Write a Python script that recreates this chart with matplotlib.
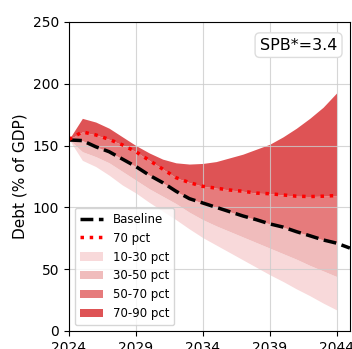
import numpy as np
import matplotlib.pyplot as plt

years = np.arange(2024, 2045)
base_years = np.arange(2024, 2046)

baseline = [154.5, 154, 149, 145, 139, 133, 126, 120, 113, 107, 103.5, 100,
            96.5, 93, 90, 86.6, 84, 80.3, 77, 73.6, 71, 67]
p10 = [155, 138, 133, 126, 118, 111.6, 104, 97, 90, 82.5, 75.5, 69.5,
       63.5, 57.5, 51.5, 45.5, 40, 34, 28.5, 22.5, 17]
p30 = [155, 145, 141, 136, 129, 122, 115, 109, 103, 96, 90, 85,
       80.5, 76, 71.5, 67, 62.5, 58, 53, 48.5, 44]
p50 = [155, 154, 149, 145, 139, 133, 126, 120, 113, 107, 103.5, 100,
       96.5, 93, 90, 86.6, 84, 80.3, 77, 73.6, 71.5]
p70 = [155, 161, 158.6, 155, 150.5, 145, 138, 131, 124, 120, 117, 115.5,
       114, 113, 111.5, 111, 110, 109, 108.7, 109, 109.5]
p90 = [155, 172, 169, 164, 157, 150, 144, 139, 136, 135, 135.5, 137,
       140, 143, 147, 151, 157, 164, 172, 181, 192.5]

fig, ax = plt.subplots(figsize=(3.52, 3.49), dpi=100)
fig.subplots_adjust(left=0.196, right=0.994, bottom=0.052, top=0.937)

ax.fill_between(years, p10, p30, color='#f8d9da', lw=0, label='10-30 pct')
ax.fill_between(years, p30, p50, color='#f0bcbc', lw=0, label='30-50 pct')
ax.fill_between(years, p50, p70, color='#e67b7c', lw=0, label='50-70 pct')
ax.fill_between(years, p70, p90, color='#de5355', lw=0, label='70-90 pct')
ax.plot(base_years, baseline, color='black', ls='--', lw=2.5, label='Baseline')
ax.plot(years, p70, color='red', ls=':', lw=2.5, label='70 pct')

ax.set_xlim(2024, 2045)
ax.set_ylim(0, 250)
ax.set_xticks([2024, 2029, 2034, 2039, 2044])
ax.set_yticks([0, 50, 100, 150, 200, 250])
ax.tick_params(labelsize=10)
ax.grid(True, color='#cccccc', lw=0.8, alpha=0.8)
ax.set_ylabel('Debt (% of GDP)', fontsize=11)

ax.text(0.955, 0.925, 'SPB*=3.4', transform=ax.transAxes, ha='right', va='center',
        fontsize=11.5, bbox=dict(boxstyle='round', fc='white', ec='#dddddd'))

handles, labels = ax.get_legend_handles_labels()
order = [4, 5, 0, 1, 2, 3]
ax.legend([handles[i] for i in order], [labels[i] for i in order],
          loc='lower left', fontsize=8.5)

plt.savefig('out.png')
